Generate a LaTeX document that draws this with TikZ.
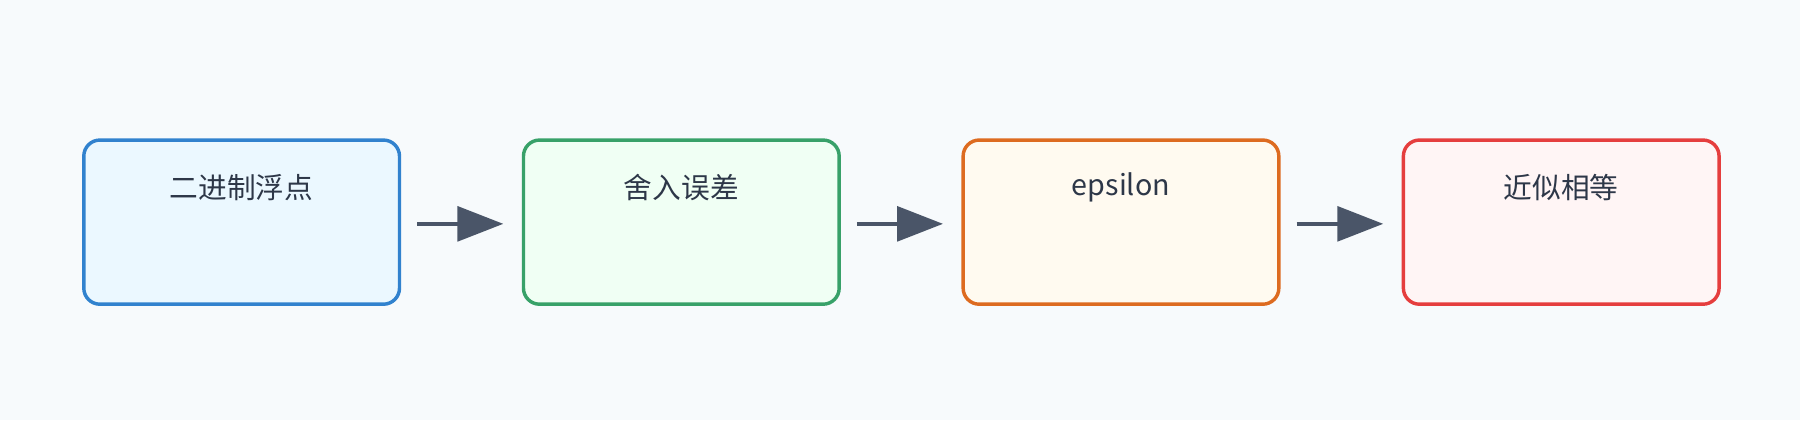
\documentclass[tikz,border=0pt]{standalone}
\usepackage{fontspec}
\setmainfont{Noto Sans CJK SC}
\usetikzlibrary{arrows.meta,calc}
\definecolor{bg}{HTML}{F7FAFC}
\definecolor{txt}{HTML}{2D3748}
\definecolor{arr}{HTML}{4A5568}
\tikzset{
 box/.style={draw, line width=3pt, rounded corners=14pt, minimum width=275pt, minimum height=143pt},
 lbl/.style={text=txt, font=\fontsize{25}{30}\selectfont},
 conn/.style={draw=arr, line width=4pt, -{Triangle[length=40pt,width=30pt]}}
}
\begin{document}
\begin{tikzpicture}[x=1pt,y=1pt]
\fill[bg] (0,0) rectangle (1568,-366);
\useasboundingbox (0,0) rectangle (1568,-366);
\node[box, draw={rgb,255:red,49;green,130;blue,206}, fill={rgb,255:red,235;green,248;blue,255}] (a) at (210.5,-193.5) {};
\node[box, draw={rgb,255:red,56;green,161;blue,105}, fill={rgb,255:red,240;green,255;blue,244}] (b) at (593.5,-193.5) {};
\node[box, draw={rgb,255:red,221;green,107;blue,32}, fill={rgb,255:red,255;green,250;blue,240}] (c) at (976.5,-193.5) {};
\node[box, draw={rgb,255:red,229;green,62;blue,62}, fill={rgb,255:red,255;green,245;blue,245}] (d) at (1360,-193.5) {};
\node[lbl] (ta) at (210.5,-163) {二进制浮点};
\node[lbl] (tb) at (593.5,-163) {舍入误差};
\node[lbl] (tc) at (976.5,-163) {epsilon};
\node[lbl] (td) at (1360,-163) {近似相等};
\draw[conn] ($(a.east)+(14,-1.5)$) -- ($(b.west)+(-16,-1.5)$);
\draw[conn] ($(b.east)+(14,-1.5)$) -- ($(c.west)+(-16,-1.5)$);
\draw[conn] ($(c.east)+(14,-1.5)$) -- ($(d.west)+(-16,-1.5)$);
\end{tikzpicture}
\end{document}
